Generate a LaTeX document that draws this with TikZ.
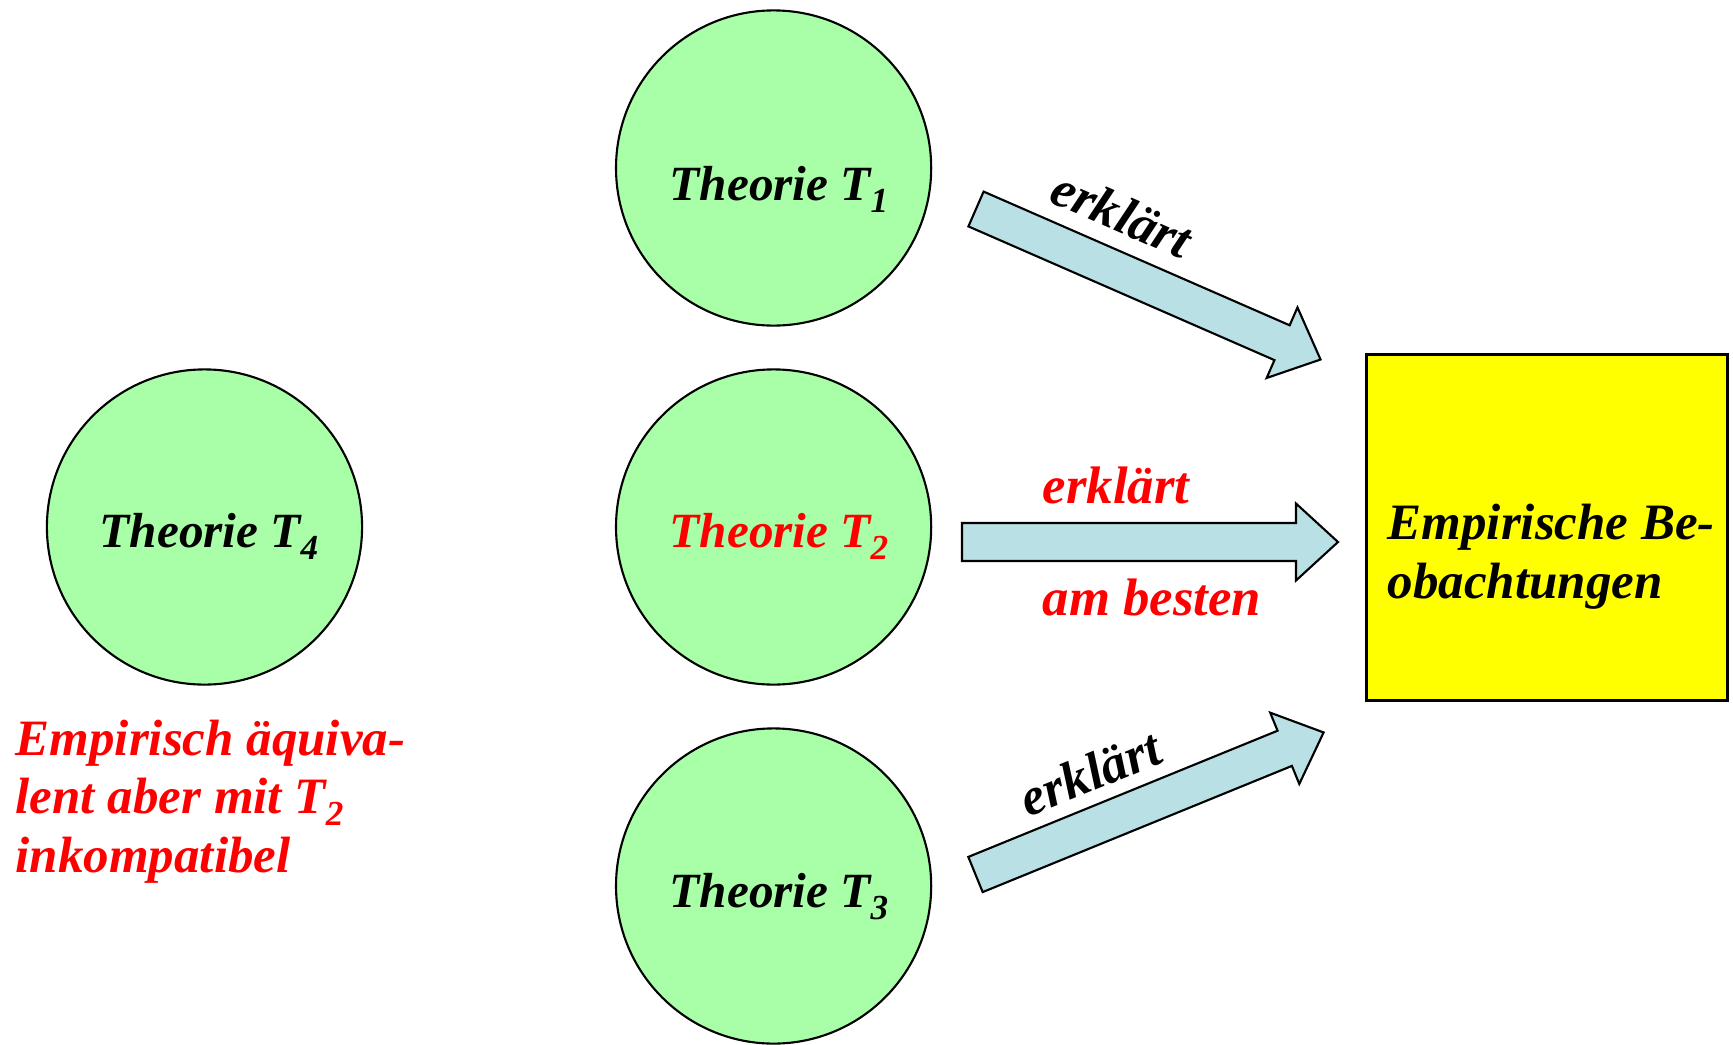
\documentclass[tikz,border=0pt]{standalone}
\usepackage{fontspec}
\setmainfont{Liberation Serif}
\definecolor{circgreen}{RGB}{168,255,168}
\definecolor{arrowblue}{RGB}{185,224,228}
\definecolor{boxyellow}{RGB}{255,255,0}
\definecolor{txtred}{RGB}{255,0,0}
\newcommand{\subidx}[1]{\raisebox{-0.12cm}{\fontsize{10}{10}\selectfont #1}}
\tikzset{
  theory/.style={circle, draw=black, line width=0.6pt, fill=circgreen, minimum size=3.15cm, inner sep=0pt},
  lbl/.style={inner sep=0pt, font=\fontsize{14}{16.6}\selectfont\bfseries\itshape},
  biglbl/.style={inner sep=0pt, font=\fontsize{14.5}{16.6}\selectfont\bfseries\itshape},
  arrlbl/.style={inner sep=0pt, font=\fontsize{15}{17}\selectfont\bfseries\itshape},
  barrow/.style={draw=black, line width=0.6pt, fill=arrowblue, line join=miter},
  blockarrow/.pic={
    \path[barrow] (0,-19) -- (334,-19) -- (334,-38.5) -- (376,0) -- (334,38.5) -- (334,19) -- (0,19) -- cycle;
  }
}
\begin{document}
\begin{tikzpicture}[x=0.01cm,y=0.01cm]
\useasboundingbox (0,0) rectangle (1733,1044);
\begin{scope}
\clip (0,0) rectangle (1733,1044);
% circles
\node[theory] (c1) at (773.6,876) {};
\node[theory] (c2) at (773.6,517) {};
\node[theory] (c3) at (773.6,158) {};
\node[theory] (c4) at (204.5,517) {};
\end{scope}
% theory labels
\node[lbl, anchor=base] (t1) at (779,844) {Theorie T\subidx{1}};
\node[lbl, anchor=base, text=txtred] (t2) at (779,497) {Theorie T\subidx{2}};
\node[lbl, anchor=base] (t3) at (779,137) {Theorie T\subidx{3}};
\node[lbl, anchor=base] (t4) at (209,497) {Theorie T\subidx{4}};
% box
\node[draw=black, line width=0.9pt, fill=boxyellow, minimum width=3.6cm, minimum height=3.45cm, inner sep=0pt] (box) at (1547,516.5) {};
\node[biglbl, anchor=base west, align=left] (boxtxt) at (1387,446) {Empirische Be-\\obachtungen};
% left red text
\node[biglbl, anchor=base west, align=left, text=txtred] (t4note) at (15,172) {Empirisch äquiva-\\lent aber mit T\subidx{2}\\inkompatibel};
% arrows
\coordinate (a1) at (976,835);
\coordinate (a2) at (962,502);
\coordinate (a3) at (975.5,169.5);
\pic[rotate=-23.6] (arr1) at (a1) {blockarrow};
\pic (arr2) at (a2) {blockarrow};
\pic[rotate=22.2] (arr3) at (a3) {blockarrow};
% arrow labels
\node[arrlbl, rotate=-23.6] (l1) at (1122,830) {erklärt};
\node[arrlbl, anchor=base west, text=txtred] (l2) at (1042,541) {erklärt};
\node[arrlbl, anchor=base west, text=txtred] (l2b) at (1042,429) {am besten};
\node[arrlbl, rotate=22.2] (l3) at (1090,271) {erklärt};
\end{tikzpicture}
\end{document}
